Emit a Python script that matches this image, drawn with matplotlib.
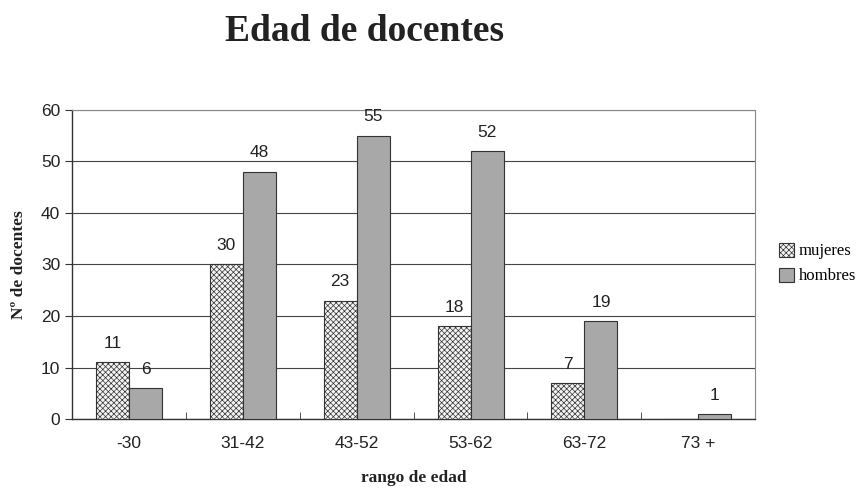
import numpy as np
import matplotlib.pyplot as plt
from matplotlib.patches import Patch

categorias = ['-30', '31-42', '43-52', '53-62', '63-72', '73 +']
mujeres = [11, 30, 23, 18, 7, 0]
hombres = [6, 48, 55, 52, 19, 1]

plt.rcParams['hatch.color'] = '#b4b4b4'
plt.rcParams['hatch.linewidth'] = 0.5

fig = plt.figure(figsize=(8.68, 4.88), dpi=100)
ax = fig.add_axes([0.083, 0.141, 0.787, 0.634])

x = np.arange(len(categorias))
w = 0.29

b1 = ax.bar(x - w / 2, mujeres, w, color='#f4f4f4', edgecolor='#333333',
            linewidth=0.8, hatch='xxxxxx', zorder=3)
b2 = ax.bar(x + w / 2, hombres, w, color='#a8a8a8', edgecolor='#333333',
            linewidth=0.8, zorder=3)

for xi, v in zip(x, mujeres):
    if v > 0:
        ax.text(xi - w / 2, v + 2.2, str(v), ha='center', va='bottom',
                fontsize=12.5, family='Liberation Sans', color='#222222')
for xi, v in zip(x, hombres):
    ax.text(xi + w / 2, v + 2.2, str(v), ha='center', va='bottom',
            fontsize=12.5, family='Liberation Sans', color='#222222')

ax.set_xlim(-0.5, len(categorias) - 0.5)
ax.set_ylim(0, 60)
ax.set_yticks(range(0, 61, 10))
ax.set_xticks(x)
ax.set_xticklabels(categorias)
ax.set_xticks(np.arange(-0.5, len(categorias)), minor=True)
ax.tick_params(axis='x', which='major', length=0, pad=12)
ax.tick_params(axis='x', which='minor', length=5, direction='in', color='#333333')
ax.tick_params(axis='y', length=5, direction='out', color='#333333')
for lab in ax.get_xticklabels() + ax.get_yticklabels():
    lab.set_family('Liberation Sans')
    lab.set_fontsize(12.5)
    lab.set_color('#222222')

ax.yaxis.grid(True, color='#444444', linewidth=0.8, zorder=0)
ax.set_axisbelow(True)
for s in ['top', 'right']:
    ax.spines[s].set_color('#888888')
    ax.spines[s].set_linewidth(0.8)
for s in ['left', 'bottom']:
    ax.spines[s].set_color('#333333')
    ax.spines[s].set_linewidth(1.0)

ax.set_xlabel('rango de edad', family='Liberation Serif', fontweight='bold',
              fontsize=12.5, labelpad=14, color='#222222')
ax.set_ylabel('Nº de docentes', family='Liberation Serif', fontweight='bold',
              fontsize=12.5, labelpad=10, color='#222222')

fig.text(0.42, 0.935, 'Edad de docentes', ha='center', va='center',
         family='Liberation Serif', fontweight='bold', fontsize=27, color='#222222')

handles = [Patch(facecolor='#f4f4f4', edgecolor='#333333', hatch='xxxxxx', linewidth=0.8),
           Patch(facecolor='#a8a8a8', edgecolor='#333333', linewidth=0.8)]
fig.legend(handles, ['mujeres', 'hombres'], loc='center left',
           bbox_to_anchor=(0.88, 0.46), frameon=False,
           prop={'family': 'Liberation Serif', 'size': 12},
           handlelength=0.9, handleheight=0.9, handletextpad=0.3, labelspacing=0.5)

fig.savefig('out.png', dpi=100)
